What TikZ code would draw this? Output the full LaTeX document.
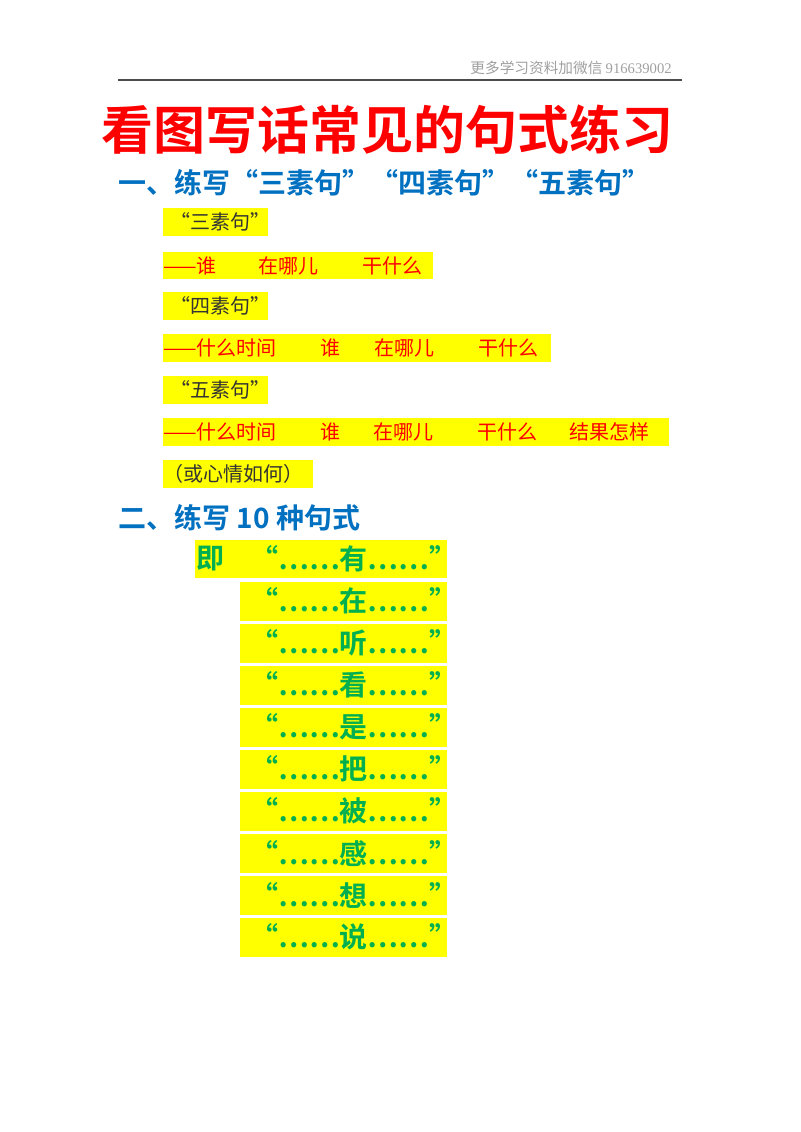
\documentclass[tikz,border=0pt]{standalone}
\usepackage{fontspec}
\newfontfamily\cjk{Noto Sans CJK SC}[BoldFont={Noto Sans CJK SC Bold}]
\newfontfamily\hdr{Liberation Serif}
\definecolor{ttred}{RGB}{255,0,0}
\definecolor{ttblue}{RGB}{0,112,192}
\definecolor{ttgreen}{RGB}{0,176,80}
\definecolor{ttyel}{RGB}{255,255,0}
\definecolor{ttgray}{RGB}{160,160,160}
\begin{document}
\begin{tikzpicture}[x=0.75pt,y=-0.75pt,
  txt/.style={anchor=west,inner sep=0pt},
  blk/.style={txt,font=\cjk\fontsize{15}{15}\selectfont,text=black!80},
  rd/.style={txt,font=\cjk\fontsize{15}{15}\selectfont,text=ttred},
  gr/.style={txt,font=\cjk\bfseries\fontsize{21}{21}\selectfont,text=ttgreen},
  hd/.style={txt,font=\cjk\bfseries\fontsize{21}{21}\selectfont,text=ttblue}]
\useasboundingbox (0,0) rectangle (800,1132);
\fill[white] (0,0) rectangle (800,1132);
\node[anchor=east,inner sep=0pt,text=ttgray,font=\cjk\fontsize{11}{11}\selectfont] (hdr) at (672,68) {更多学习资料加微信 {\hdr 916639002}};
\draw[line width=1.5pt,black!70] (118,80) -- (682,80);
\node[inner sep=0pt,text=ttred,font=\cjk\bfseries\fontsize{39}{39}\selectfont] (title) at (387,130) {看图写话常见的句式练习};
\node[hd] (s1) at (118,183) {一、练写“三素句”“四素句”“五素句”};
% yellow boxes
\foreach \a/\b/\c/\d in {163/208/268/236, 163/252/433/279, 163/292/268/320, 163/334/551/362, 163/376/268/404, 163/418/669/446, 163/460/313/488}
  \fill[ttyel] (\a,\b) rectangle (\c,\d);
\node[blk] (q3) at (170,222) {“三素句”};
\node[rd] (l1a) at (163,266) {——谁};
\node[rd] (l1b) at (258,266) {在哪儿};
\node[rd] (l1c) at (362,266) {干什么};
\node[blk] (q4) at (170,306) {“四素句”};
\node[rd] (l2a) at (163,348) {——什么时间};
\node[rd] (l2b) at (320,348) {谁};
\node[rd] (l2c) at (374,348) {在哪儿};
\node[rd] (l2d) at (478,348) {干什么};
\node[blk] (q5) at (170,390) {“五素句”};
\node[rd] (l3a) at (163,432) {——什么时间};
\node[rd] (l3b) at (320,432) {谁};
\node[rd] (l3c) at (373,432) {在哪儿};
\node[rd] (l3d) at (477,432) {干什么};
\node[rd] (l3e) at (569,432) {结果怎样};
\node[blk] (q6) at (163,474) {（或心情如何）};
\node[hd] (s2) at (118,518) {二、练写 10 种句式};
\fill[ttyel] (195,540) rectangle (447,578);
\node[gr] (ji) at (196,559) {即};
\foreach \w [count=\i from 0] in {有,在,听,看,是,把,被,感,想,说}{
  \pgfmathsetmacro\yy{559+42*\i}
  \ifnum\i>0 \fill[ttyel] (240,\yy-19) rectangle (447,\yy+20); \fi
  \node[gr] (g\i) at (250,\yy) {“……\w……”};
}
\end{tikzpicture}
\end{document}
